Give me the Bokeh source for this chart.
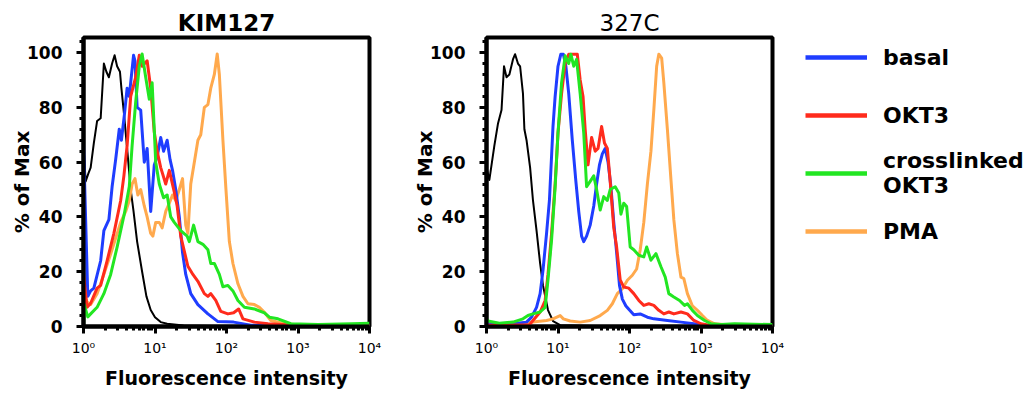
from bokeh.plotting import figure
from bokeh.models import Range1d, FixedTicker, Legend, LegendItem
from bokeh.layouts import row
from bokeh.embed import file_html
from bokeh.resources import INLINE

# ---------------- data (x given as log10 of fluorescence intensity) ----------------
series_names = ["control", "basal", "OKT3", "crosslinked\nOKT3", "PMA"]
series_colors = ["#000000", "#1f3dff", "#ff2b1c", "#22e622", "#ffa94d"]
x_tick_values = [1, 10, 100, 1000, 10000]
x_tick_labels = ["10⁰", "10¹", "10²", "10³", "10⁴"]
y_tick_values = [0, 20, 40, 60, 80, 100]

# KIM127 panel
kim_control_log = [0.0, 0.03, 0.07, 0.1, 0.145, 0.19, 0.24, 0.285, 0.32, 0.355, 0.40, 0.435, 0.47, 0.51, 0.53, 0.565, 0.61, 0.66, 0.70, 0.75, 0.82, 0.88, 0.94, 1.0, 1.08, 1.17, 1.4, 1.8, 2.5, 3.5, 4.0]
kim_control_pct = [66, 53, 56, 58, 67, 75, 76, 96, 93, 91, 96, 99, 95, 93, 87, 78, 65, 50, 42, 31, 20, 11, 6, 3.4, 1.6, 1, 0.4, 0.2, 0.1, 0.1, 0.1]

kim_basal_log = [0.0, 0.06, 0.1, 0.145, 0.24, 0.285, 0.355, 0.40, 0.45, 0.5, 0.53, 0.575, 0.61, 0.64, 0.70, 0.72, 0.75, 0.8, 0.85, 0.89, 0.94, 0.99, 1.03, 1.08, 1.12, 1.17, 1.21, 1.245, 1.29, 1.34, 1.385, 1.43, 1.5, 1.6, 1.74, 1.88, 2.1, 2.34, 2.6, 3.0, 3.5, 4.0]
kim_basal_pct = [67, 11, 13, 14, 24, 35, 39, 51, 61, 72, 68, 78, 87, 84, 99, 97, 80, 79, 60, 65, 42, 59, 62, 69, 64, 68, 61, 57, 50, 40, 27, 19, 12, 8, 4.6, 1.8, 1.6, 0.5, 0.3, 0.3, 0.3, 0.3]

kim_okt3_log = [0.0, 0.05, 0.1, 0.19, 0.24, 0.33, 0.425, 0.52, 0.565, 0.61, 0.66, 0.73, 0.78, 0.82, 0.89, 0.94, 0.99, 1.03, 1.08, 1.15, 1.2, 1.27, 1.31, 1.36, 1.46, 1.53, 1.6, 1.69, 1.74, 1.78, 1.85, 1.92, 2.02, 2.1, 2.17, 2.23, 2.39, 2.58, 3.05, 3.5, 4.0]
kim_okt3_pct = [19, 7, 8.5, 14, 15, 24, 34, 46, 55, 66, 84, 91, 99, 95, 97, 87, 71, 64, 58, 52, 57, 49, 44, 33, 22, 19, 16.5, 12, 11, 12, 9.5, 5.5, 4.6, 5, 6.4, 2.8, 1.6, 1, 0.4, 0.3, 0.5]

kim_xl_log = [0.0, 0.01, 0.06, 0.1, 0.19, 0.285, 0.38, 0.47, 0.57, 0.64, 0.68, 0.73, 0.78, 0.82, 0.87, 0.92, 0.96, 1.01, 1.06, 1.12, 1.17, 1.22, 1.27, 1.36, 1.45, 1.48, 1.54, 1.6, 1.67, 1.74, 1.78, 1.83, 1.9, 1.95, 2.02, 2.09, 2.16, 2.25, 2.39, 2.53, 2.6, 2.72, 2.9, 3.28, 3.75, 4.0]
kim_xl_pct = [0, 8, 3.5, 4.6, 7, 12, 19, 29, 41, 51, 66, 82, 95, 99.5, 91, 83, 89, 60, 52, 47, 48, 40, 38, 35, 33, 31, 37, 31, 30, 28, 23, 23, 19, 14.5, 15, 13, 9.5, 7, 6.4, 5, 3.4, 2.8, 1, 0.7, 1, 1.2]

kim_pma_log = [0.0, 0.05, 0.1, 0.19, 0.24, 0.38, 0.52, 0.59, 0.64, 0.68, 0.72, 0.76, 0.8, 0.85, 0.89, 0.94, 0.97, 1.01, 1.06, 1.1, 1.15, 1.2, 1.245, 1.29, 1.34, 1.385, 1.43, 1.46, 1.5, 1.55, 1.6, 1.64, 1.69, 1.74, 1.78, 1.83, 1.87, 1.9, 1.95, 1.99, 2.04, 2.09, 2.16, 2.23, 2.3, 2.39, 2.46, 2.53, 2.62, 2.81, 3.2, 4.0]
kim_pma_pct = [12, 9, 8, 12, 15.6, 26.5, 38, 42, 46, 52, 54, 48, 50, 44, 40, 34, 33, 38, 38, 36, 42, 45, 48, 46, 50, 54, 37, 34, 52, 60, 68, 70, 80, 81, 87, 92, 99.5, 92, 68, 51, 31, 23, 15.6, 11, 8.3, 8, 7, 5.2, 2.2, 1, 0.3, 0.3]

# 327C panel
c327_control_log = [0.0, 0.04, 0.065, 0.11, 0.16, 0.21, 0.245, 0.28, 0.32, 0.37, 0.40, 0.44, 0.47, 0.51, 0.53, 0.56, 0.61, 0.65, 0.70, 0.75, 0.79, 0.86, 0.93, 1.03, 1.5, 4.0]
c327_control_pct = [58, 53.5, 58, 66, 74, 79, 95, 91, 92, 97.5, 99.4, 96, 95, 85, 72, 68, 58, 46, 35, 23, 15, 6, 2, 0.5, 0.2, 0.1]

c327_basal_log = [0.0, 0.3, 0.56, 0.63, 0.70, 0.75, 0.79, 0.84, 0.88, 0.93, 0.96, 1.0, 1.04, 1.075, 1.11, 1.15, 1.2, 1.25, 1.29, 1.33, 1.36, 1.40, 1.45, 1.50, 1.54, 1.58, 1.62, 1.66, 1.70, 1.74, 1.78, 1.82, 1.86, 1.9, 1.95, 2.0, 2.06, 2.15, 2.25, 2.34, 2.53, 2.72, 2.9, 3.09, 3.5, 4.0]
c327_basal_pct = [1, 0.8, 1.6, 3.4, 7, 12, 20.5, 34, 46, 73, 84, 95, 99.4, 99.4, 95, 85, 68, 53, 42, 33, 31, 33, 37, 44, 52, 59, 63, 65, 60, 51, 38, 27, 15, 10, 7.5, 6, 4.3, 4.6, 3.4, 2.8, 2.2, 1.6, 1, 0.4, 0.3, 0.3]

c327_okt3_log = [0.0, 0.6, 0.65, 0.75, 0.82, 0.86, 0.91, 0.96, 1.0, 1.05, 1.1, 1.15, 1.27, 1.31, 1.35, 1.38, 1.42, 1.47, 1.52, 1.56, 1.61, 1.65, 1.69, 1.73, 1.78, 1.82, 1.87, 1.92, 1.99, 2.06, 2.13, 2.2, 2.27, 2.34, 2.41, 2.48, 2.55, 2.62, 2.72, 2.81, 2.9, 3.0, 3.14, 3.5, 4.0]
c327_okt3_pct = [0.5, 0.6, 2.2, 5.3, 9.5, 19, 34, 52, 70.7, 85, 96, 99.4, 99.4, 90, 84, 72, 59, 69, 64, 65, 73, 67, 65, 53, 36, 29, 17, 14.4, 14, 12, 9.5, 7.7, 8.3, 7.7, 5.9, 4.6, 5.3, 4.6, 5.3, 4.6, 2.2, 1, 0.4, 0.3, 0.3]

c327_xl_log = [0.0, 0.02, 0.18, 0.37, 0.51, 0.58, 0.65, 0.75, 0.82, 0.86, 0.91, 0.96, 1.0, 1.05, 1.1, 1.15, 1.18, 1.22, 1.26, 1.31, 1.36, 1.40, 1.45, 1.50, 1.54, 1.59, 1.64, 1.69, 1.73, 1.80, 1.85, 1.88, 1.92, 1.96, 2.01, 2.06, 2.13, 2.2, 2.24, 2.3, 2.37, 2.44, 2.5, 2.55, 2.62, 2.7, 2.77, 2.81, 2.88, 2.95, 3.05, 3.14, 3.28, 3.47, 4.0]
c327_xl_pct = [3, 2, 1.2, 1.6, 2.8, 4, 4.6, 5.3, 7, 17, 31.5, 51, 70.7, 89, 98.8, 96, 99.4, 95, 97.5, 85, 70.7, 51, 53, 55, 50, 42.5, 47.4, 46, 50, 51, 48.7, 41, 45, 43.8, 29, 28, 26, 25.4, 29, 24.2, 26.6, 21.8, 18, 12, 10.8, 9.5, 7.7, 8.3, 5.9, 4, 2.2, 1, 0.7, 1, 0.7]

c327_pma_log = [0.0, 0.42, 0.65, 0.84, 0.93, 1.03, 1.075, 1.17, 1.31, 1.45, 1.59, 1.69, 1.76, 1.83, 1.9, 1.97, 2.04, 2.1, 2.15, 2.2, 2.25, 2.3, 2.34, 2.38, 2.41, 2.45, 2.48, 2.53, 2.58, 2.62, 2.67, 2.72, 2.76, 2.81, 2.88, 2.95, 3.02, 3.09, 3.19, 3.5, 4.0]
c327_pma_pct = [0.4, 1, 1.6, 2.2, 2.8, 4, 2.8, 2, 1.6, 2.2, 4, 5.9, 8.3, 12, 13.8, 16.9, 18.7, 21, 28, 38, 52, 64, 79, 95, 99.4, 98, 89, 72, 53.5, 39, 26.6, 18, 17.5, 12, 7.5, 5.9, 4, 2.2, 1, 0.3, 0.3]

panels = [
    ("KIM127", "bold", [(kim_control_log, kim_control_pct), (kim_pma_log, kim_pma_pct), (kim_basal_log, kim_basal_pct), (kim_okt3_log, kim_okt3_pct), (kim_xl_log, kim_xl_pct)]),
    ("327C", "normal", [(c327_control_log, c327_control_pct), (c327_pma_log, c327_pma_pct), (c327_basal_log, c327_basal_pct), (c327_okt3_log, c327_okt3_pct), (c327_xl_log, c327_xl_pct)]),
]
draw_order = [0, 4, 1, 2, 3]  # control, PMA, basal, OKT3, crosslinked

FIG_H = 396


def make_panel(title, title_style, curves, width, border_left, border_right, title_offset):
    p = figure(width=width, height=FIG_H, x_axis_type="log",
               x_range=Range1d(1, 10000), y_range=Range1d(0, 105.5),
               output_backend="svg", toolbar_location=None,
               min_border_left=border_left, min_border_right=border_right,
               min_border_top=37, min_border_bottom=70)
    p.title.text = title
    p.title.align = "center"
    p.title.text_font = "DejaVu Sans"
    p.title.text_font_size = "23px"
    p.title.text_font_style = title_style
    p.title.text_color = "black"
    p.title.standoff = 4
    p.title.offset = title_offset
    p.grid.visible = False
    p.outline_line_color = "black"
    p.outline_line_width = 4
    p.background_fill_color = "white"
    p.border_fill_color = "white"

    for idx, (lx, ly) in zip(draw_order, curves):
        xs = [10 ** v for v in lx]
        p.line(xs, ly, line_color=series_colors[idx],
               line_width=2 if idx == 0 else 3, line_join="round")

    minor_x = [k * t for t in x_tick_values[:-1] for k in range(2, 10)]
    p.xaxis.ticker = FixedTicker(ticks=x_tick_values, minor_ticks=minor_x)
    p.xaxis.major_label_overrides = {v: s for v, s in zip(x_tick_values, x_tick_labels)}
    p.yaxis.ticker = FixedTicker(ticks=y_tick_values, minor_ticks=[v for v in range(0, 106, 4)])

    for ax in (p.xaxis[0], p.yaxis[0]):
        ax.axis_line_width = 4
        ax.axis_line_color = "black"
        ax.major_tick_line_width = 3
        ax.minor_tick_line_width = 3
        ax.major_tick_in = 0
        ax.minor_tick_in = 0
        ax.major_tick_out = 7
        ax.minor_tick_out = 4
        ax.axis_label_text_font = "DejaVu Sans"
        ax.axis_label_text_font_style = "bold"
        ax.axis_label_text_font_size = "19px"
        ax.axis_label_text_color = "black"
        ax.major_label_text_color = "black"
        ax.major_label_text_font = "DejaVu Sans"

    p.xaxis.axis_label = "Fluorescence intensity"
    p.xaxis.major_label_text_font_size = "14px"
    p.xaxis.major_label_standoff = 6
    p.xaxis.axis_label_standoff = 8
    p.yaxis.axis_label = "% of Max"
    p.yaxis.axis_label_text_font_size = "20px"
    p.yaxis.major_label_text_font_size = "17px"
    p.yaxis.major_label_text_font_style = "bold"
    p.yaxis.major_label_standoff = 14
    p.yaxis.axis_label_standoff = -10
    return p


p1 = make_panel(*panels[0], width=400, border_left=83, border_right=31, title_offset=-6)
p2 = make_panel(*panels[1], width=400, border_left=86, border_right=28, title_offset=-8)

# legend panel (its frame is aligned with the two plots' frames by the row layout)
p3 = figure(width=236, height=FIG_H, x_range=Range1d(0, 1), y_range=Range1d(0, 1),
            output_backend="svg", toolbar_location=None,
            x_axis_location=None, y_axis_location=None,
            min_border_left=0, min_border_right=0, min_border_top=37, min_border_bottom=70)
p3.grid.visible = False
p3.outline_line_color = None

items = []
for idx in [1, 2, 3, 4]:
    proxy = p3.line([float("nan")], [float("nan")], line_color=series_colors[idx], line_width=4.5)
    items.append(LegendItem(label=series_names[idx], renderers=[proxy]))

legend = Legend(items=items, location=(5, 66))
legend.label_text_font = "DejaVu Sans"
legend.label_text_font_style = "bold"
legend.label_text_font_size = "22px"
legend.label_text_color = "black"
legend.label_text_line_height = 1.3
legend.glyph_width = 62
legend.glyph_height = 58
legend.label_height = 58
legend.spacing = 0
legend.padding = 0
legend.margin = 0
legend.label_standoff = 16
legend.border_line_alpha = 0
legend.background_fill_alpha = 0
p3.add_layout(legend)

layout = row(p1, p2, p3)
open("out.html", "w").write(file_html(layout, INLINE))
